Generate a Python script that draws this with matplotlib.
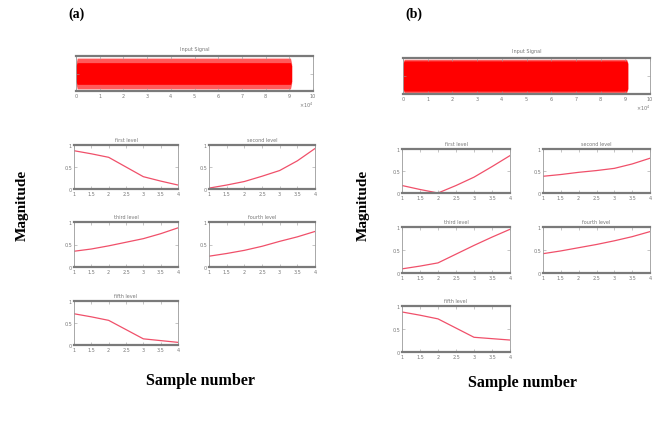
import matplotlib
matplotlib.use("Agg")
import matplotlib.pyplot as plt
import numpy as np

W, H = 664, 427

# ---- data ----
levels_x = [1, 1.5, 2, 2.5, 3, 3.5, 4]
level_titles = ["first level", "second level", "third level", "fourth level", "fifth level"]

a_levels = [
    [0.87, 0.80, 0.72, 0.50, 0.28, 0.18, 0.09],   # first
    [0.02, 0.09, 0.17, 0.29, 0.42, 0.64, 0.92],   # second
    [0.35, 0.40, 0.47, 0.55, 0.63, 0.74, 0.87],   # third
    [0.24, 0.30, 0.37, 0.46, 0.57, 0.67, 0.79],   # fourth
    [0.71, 0.64, 0.56, 0.35, 0.14, 0.10, 0.06],   # fifth
]
b_levels = [
    [0.17, 0.08, 0.00, 0.17, 0.36, 0.60, 0.85],   # first
    [0.38, 0.42, 0.47, 0.51, 0.56, 0.66, 0.79],   # second
    [0.09, 0.15, 0.22, 0.41, 0.60, 0.78, 0.95],   # third
    [0.42, 0.48, 0.55, 0.62, 0.70, 0.79, 0.90],   # fourth
    [0.87, 0.80, 0.72, 0.52, 0.32, 0.29, 0.26],   # fifth
]

# input-signal envelope (x in units of 1e4 samples)
sig_x = [0.0, 0.05, 9.05, 9.1]
a_core = [0.45, 0.62, 0.62, 0.45]
a_spike = [0.55, 0.88, 0.88, 0.55]
b_core = [0.70, 0.84, 0.84, 0.70]
b_spike = [0.75, 0.93, 0.93, 0.75]

sig_ticks = list(range(0, 11))

fig = plt.figure(figsize=(W / 100, H / 100), dpi=100)
fig.patch.set_facecolor("white")


def ax_px(l, t, r, b):
    return fig.add_axes([l / W, 1 - b / H, (r - l) / W, (b - t) / H])


def style(ax):
    for s in ["left", "right"]:
        ax.spines[s].set_color("#9a9a9a")
        ax.spines[s].set_linewidth(0.6)
    for s in ["top", "bottom"]:
        ax.spines[s].set_color("#7a7a7a")
        ax.spines[s].set_linewidth(1.6)
    ax.tick_params(direction="in", length=2, width=0.4, colors="#9a9a9a",
                   labelsize=3.5, labelcolor="#777777", pad=1.5,
                   top=True, right=True)


def signal_axes(box, core, spike):
    ax = ax_px(*box)
    ax.fill_between(sig_x, [-v for v in spike], spike, color="#ff5a5a", lw=0)
    ax.fill_between(sig_x, [-v for v in core], core, color="#ff0000", lw=0)
    ax.set_xlim(0, 10)
    ax.set_ylim(-1, 1)
    ax.set_xticks(sig_ticks)
    ax.set_xticklabels([str(t) for t in sig_ticks])
    ax.set_yticks([0])
    ax.set_yticklabels([""])
    ax.set_title("Input Signal", fontsize=3.5, color="#777777", pad=4)
    style(ax)
    ax.text(1.0, -0.45, r"$\times10^4$", transform=ax.transAxes, fontsize=3.5,
            color="#777777", ha="right")
    return ax


def level_axes(box, yvals, title):
    ax = ax_px(*box)
    ax.plot(levels_x, yvals, color="#f0506a", lw=0.9)
    ax.set_xlim(1, 4)
    ax.set_ylim(0, 1)
    ax.set_xticks(levels_x)
    ax.set_xticklabels(["1", "1.5", "2", "2.5", "3", "3.5", "4"])
    ax.set_yticks([0, 0.5, 1])
    ax.set_yticklabels(["0", "0.5", "1"])
    ax.set_title(title, fontsize=3.5, color="#777777", pad=3)
    style(ax)
    return ax


# ---- panel (a) ----
signal_axes((76, 57, 313, 92), a_core, a_spike)
a_boxes = [(74, 146, 178, 190), (209, 146, 315, 190),
           (74, 223, 178, 268), (209, 223, 315, 268),
           (74, 302, 178, 346)]
for box, vals, t in zip(a_boxes, a_levels, level_titles):
    level_axes(box, vals, t)

# ---- panel (b) ----
signal_axes((403, 59, 650, 95), b_core, b_spike)
b_boxes = [(402, 150, 510, 194), (543, 150, 650, 194),
           (402, 228, 510, 274), (543, 228, 650, 274),
           (402, 307, 510, 353)]
for box, vals, t in zip(b_boxes, b_levels, level_titles):
    level_axes(box, vals, t)

serif = ["Liberation Serif", "DejaVu Serif"]
fig.text(68 / W, 1 - 14 / H, "(a)", fontsize=10, fontweight="bold", family=serif, va="center")
fig.text(405 / W, 1 - 14 / H, "(b)", fontsize=10, fontweight="bold", family=serif, va="center")
fig.text(22 / W, 1 - 205 / H, "Magnitude", fontsize=11, fontweight="bold", family=serif,
         rotation=90, ha="center", va="center")
fig.text(363 / W, 1 - 205 / H, "Magnitude", fontsize=11, fontweight="bold", family=serif,
         rotation=90, ha="center", va="center")
fig.text(200 / W, 1 - 381 / H, "Sample number", fontsize=11.5, fontweight="bold", family=serif,
         ha="center", va="center")
fig.text(523 / W, 1 - 383 / H, "Sample number", fontsize=11.5, fontweight="bold", family=serif,
         ha="center", va="center")

fig.savefig("out.png", dpi=100, facecolor="white")
